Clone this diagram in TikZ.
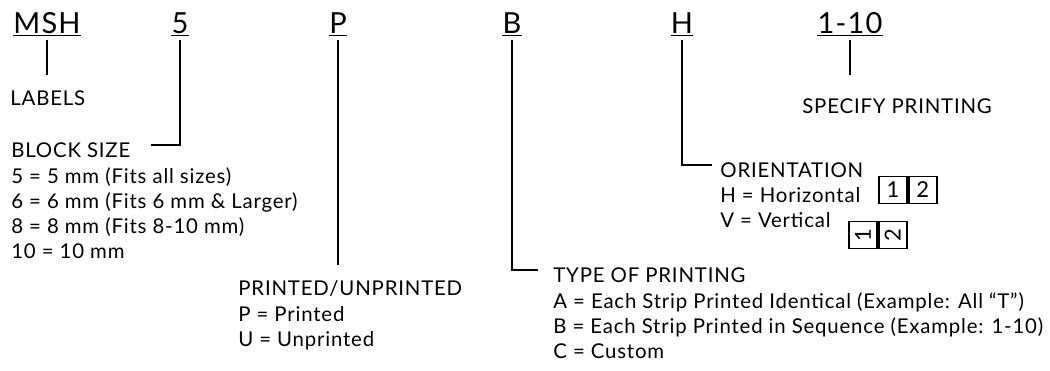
\documentclass[tikz,border=0pt]{standalone}
\usepackage{fontspec}
\setmainfont{Lato}[LetterSpace=4]
\usetikzlibrary{positioning}

\tikzset{
  code/.style={font=\fontsize{16.5}{16.5}\selectfont, inner sep=0pt, anchor=base},
  title/.style={font=\fontsize{11.6}{14.2}\selectfont, inner sep=0pt, anchor=base west},
  items/.style={font=\fontsize{11.6}{14.2}\selectfont, inner sep=0pt, align=left},
  leader/.style={line width=1.1pt},
  bar/.style={line width=0.6pt},
  cell/.style={draw, line width=1pt, inner sep=0pt, minimum width=0.56cm, minimum height=0.54cm, font=\fontsize{12.5}{12.5}\selectfont},
}

\begin{document}
\begin{tikzpicture}[x=0.02cm, y=-0.02cm]
      \newcommand\GAP{0.13cm}
      \newcommand\ITEMSEP{0.19cm}
      \newcommand\UL{0.04cm}

      \useasboundingbox (0,0) rectangle (1050,370);

      \node[code] (msh) at (47,33) {MSH};
      \node[code] (size) at (180,33) {5};
      \node[code] (print) at (338,33) {P};
      \node[code] (type) at (512,33) {B};
      \node[code] (orient) at (682,33) {H};
      \node[code] (spec) at (850,33) {1-10};

      \draw[bar] ([yshift=-\UL]msh.south west) -- ([yshift=-\UL]msh.south east);
      \draw[bar] ([yshift=-\UL]size.south west) -- ([yshift=-\UL]size.south east);
      \draw[bar] ([yshift=-\UL]print.south west) -- ([yshift=-\UL]print.south east);
      \draw[bar] ([yshift=-\UL]type.south west) -- ([yshift=-\UL]type.south east);
      \draw[bar] ([yshift=-\UL]orient.south west) -- ([yshift=-\UL]orient.south east);
      \draw[bar] ([yshift=-\UL]spec.south west) -- ([yshift=-\UL]spec.south east);

      \node[title] (labels) at (10,105) {LABELS};
      \node[title] (bsize) at (11,157) {BLOCK SIZE};
      \node[title] (printed) at (238,295) {PRINTED/UNPRINTED};
      \node[title] (typeof) at (553,282) {TYPE OF PRINTING};
      \node[title] (orientation) at (720,177) {ORIENTATION};
      \node[title] (specify) at (802,113) {SPECIFY PRINTING};

      \node[items, below=\ITEMSEP of bsize.south west, anchor=north west] (bsizelist)
        {5 = 5 mm (Fits all sizes)\\6 = 6 mm (Fits 6 mm \& Larger)\\8 = 8 mm (Fits 8-10 mm)\\10 = 10 mm};
      \node[items, below=\ITEMSEP of printed.south west, anchor=north west] (printedlist)
        {P = Printed\\U = Unprinted};
      \node[items, below=\ITEMSEP of typeof.south west, anchor=north west] (typeoflist)
        {A = Each Strip Printed Identical (Example: All “T”)\\B = Each Strip Printed in Sequence (Example: 1-10)\\C = Custom};
      \node[items, below=\ITEMSEP of orientation.south west, anchor=north west] (orientationlist)
        {H = Horizontal\\V = Vertical};

      \node[cell] (hone) at (893,190) {1};
      \node[cell, right=0pt of hone] (htwo) {2};
      \node[cell] (vone) at (863,235) {\rotatebox{90}{1}};
      \node[cell, right=0pt of vone] (vtwo) {\rotatebox{90}{2}};

      \draw[leader, shorten <=\GAP, shorten >=0.3cm] (msh.south) -- (msh.south |- labels.north);
      \draw[leader, shorten <=\GAP] (size.south) |- ([xshift=0.4cm, yshift=0.1cm]bsize.east);
      \draw[leader, shorten <=\GAP, shorten >=0.3cm] (print.south) -- (print.south |- printed.north);
      \draw[leader, shorten <=\GAP] (type.south) |- ([xshift=-0.3cm, yshift=0.1cm]typeof.west);
      \draw[leader, shorten <=\GAP] (orient.south) |- ([xshift=-0.16cm, yshift=0.1cm]orientation.west);
      \draw[leader, shorten <=\GAP, shorten >=0.46cm] (spec.south) -- (spec.south |- specify.north);

\end{tikzpicture}
\end{document}
